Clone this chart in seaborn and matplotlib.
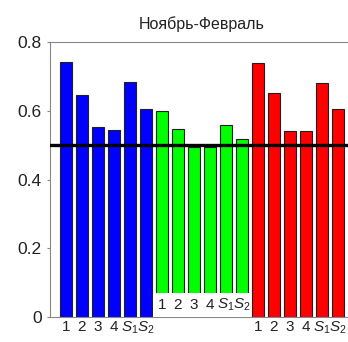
import matplotlib
matplotlib.use("Agg")
import matplotlib.pyplot as plt
from matplotlib.patches import Rectangle
import seaborn as sns
import pandas as pd

sns.set_style("white")
plt.rcParams["font.family"] = ["Liberation Sans", "DejaVu Sans"]
plt.rcParams["mathtext.fontset"] = "custom"
plt.rcParams["mathtext.it"] = "Liberation Sans:italic"
plt.rcParams["mathtext.rm"] = "Liberation Sans"

# Correlation scores for three models, by station (1-4) and summary indices S1, S2
labels = ["1", "2", "3", "4", "$S_1$", "$S_2$"]
blue_vals = [0.743, 0.646, 0.553, 0.543, 0.685, 0.606]
green_vals = [0.599, 0.546, 0.495, 0.495, 0.559, 0.518]
red_vals = [0.740, 0.652, 0.542, 0.542, 0.682, 0.604]
groups = ["blue", "green", "red"]
colors = {"blue": "#0000FF", "green": "#00FF00", "red": "#FF0000"}
threshold = 0.5
title = "Ноябрь-Февраль"

values = blue_vals + green_vals + red_vals
df = pd.DataFrame({
    "pos": [str(i) for i in range(len(values))],
    "value": values,
    "group": [g for g in groups for _ in labels],
})

fig = plt.figure(figsize=(3.48, 3.42), dpi=100)
ax = fig.add_axes([50 / 348, 25 / 342, 304 / 348, 275 / 342])

sns.barplot(data=df, x="pos", y="value", hue="group", palette=colors,
            saturation=1, dodge=False, width=0.8, edgecolor="#202020",
            linewidth=0.8, legend=False, ax=ax, zorder=2)

ax.set_xlim(-1, 18)
ax.set_ylim(0, 0.8)
ax.axhline(threshold, color="black", lw=2.4, zorder=4)

# label strip for the middle group sits inside the axes
ax.add_patch(Rectangle((5.45, -0.002), 6.1, 0.072, facecolor="white",
                       edgecolor="none", zorder=3))
for i, lab in enumerate(labels):
    ax.text(6 + i, 0.036, lab, ha="center", va="center", fontsize=11,
            color="#222222", zorder=5)

ticks = list(range(0, 6)) + list(range(12, 18))
ax.set_xticks(ticks)
ax.set_xticklabels(labels + labels, fontsize=11, color="#222222")
ax.set_yticks([0, 0.2, 0.4, 0.6, 0.8])
ax.set_yticklabels(["0", "0.2", "0.4", "0.6", "0.8"], fontsize=12.5,
                   color="#222222")
ax.tick_params(axis="x", length=0, pad=2)
ax.tick_params(axis="y", length=2, width=0.8, color="#888888", pad=4,
               left=True, direction="out")
ax.set_xlabel("")
ax.set_ylabel("")
for s in ax.spines.values():
    s.set_color("#888888")
    s.set_linewidth(0.8)

ax.set_title(title, fontsize=11.5, pad=9, color="#222222")

fig.savefig("out.png", dpi=100, facecolor="white")
